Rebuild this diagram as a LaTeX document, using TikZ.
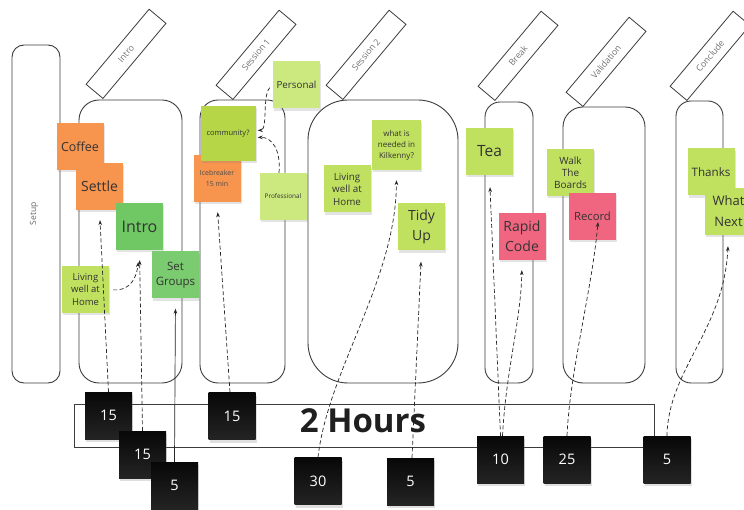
\documentclass[tikz,border=0pt]{standalone}
\usepackage{fontspec}
\setmainfont{Open Sans}
\usetikzlibrary{arrows.meta,shadows}

\definecolor{stickyorange}{RGB}{247,148,78}
\definecolor{stickylime}{RGB}{192,224,96}
\definecolor{stickypale}{RGB}{204,233,128}
\definecolor{stickyleaf}{RGB}{112,200,100}
\definecolor{stickypink}{RGB}{240,102,128}
\definecolor{stickyolive}{RGB}{182,214,72}
\definecolor{inkline}{RGB}{60,60,60}

\begin{document}
\begin{tikzpicture}[x=1pt,y=-1pt,
  colbox/.style={draw=inkline, line width=0.9pt, rounded corners=#1, inner sep=0pt},
  colbox/.default=18pt,
  tab/.style={draw=inkline, line width=0.8pt, rotate=50, anchor=south west,
    minimum width=98, minimum height=22, inner sep=0pt,
    font=\fontsize{8.8}{10}\selectfont, text=black!55},
  sticky/.style={fill=#1, minimum width=47, minimum height=47, inner sep=1pt,
    align=center, text=black!80,
    drop shadow={shadow xshift=1pt, shadow yshift=-2.5pt, opacity=0.22}},
  timer/.style={minimum width=47, minimum height=47, inner sep=0pt,
    top color=black!97, bottom color=black!86, text=white,
    font=\fontsize{14.5}{16}\selectfont,
    drop shadow={shadow xshift=1pt, shadow yshift=-3pt, opacity=0.25}},
  conn/.style={draw=black!85, line width=0.7pt, dash pattern=on 4pt off 2.5pt,
    -{Stealth[length=5pt,width=3.6pt]}},
]
\clip (0,0) rectangle (744,510);
\fill[white] (0,0) rectangle (744,510);

% agenda columns
\node[colbox=12pt, minimum width=48, minimum height=338] (setupcol) at (36,214) {};
\node[rotate=90, font=\fontsize{8.5}{9}\selectfont, text=black!60] (setuplabel) at (34,214) {Setup};
\node[colbox=20pt, minimum width=103, minimum height=283] (introcol) at (130.5,241.5) {};
\node[colbox=18pt, minimum width=85, minimum height=283] (sessAcol) at (242.5,241.5) {};
\node[colbox=40pt, minimum width=150, minimum height=283] (sessBcol) at (383,241.5) {};
\node[colbox=15pt, minimum width=48, minimum height=281] (breakcol) at (509,242.5) {};
\node[colbox=20pt, minimum width=82, minimum height=276] (validcol) at (604,245) {};
\node[colbox=15pt, minimum width=47, minimum height=282] (concludecol) at (699.5,242) {};

% slanted headers
\node[tab] (tabintro) at (103,99) {Intro};
\node[tab] (tabsessA) at (233,100) {Session 1};
\node[tab] (tabsessB) at (343,100) {Session 2};
\node[tab] (tabbreak) at (495,101) {Break};
\node[tab] (tabvalid) at (583,107) {Validation};
\node[tab] (tabconclude) at (687,101) {Conclude};

% time bar
\node[draw=inkline, line width=0.8pt, minimum width=580, minimum height=43, inner sep=0pt] (hoursbar) at (364,425.5) {};
\node[font=\fontsize{33}{36}\selectfont\bfseries, text=black!88] (hourslabel) at (363,421) {2 Hours};

% sticky notes
\node[sticky=stickyorange, font=\fontsize{12.5}{15}\selectfont] (coffee) at (80,146.5) {Coffee};
\node[sticky=stickyorange, font=\fontsize{14}{16}\selectfont] (settle) at (99.5,186.5) {Settle};
\node[sticky=stickyleaf, font=\fontsize{16}{18}\selectfont] (intronote) at (139.5,226.5) {Intro};
\node[sticky=stickyleaf!92!white, font=\fontsize{11.5}{15}\selectfont] (groups) at (175.5,275) {Set\\Groups};
\node[sticky=stickylime, font=\fontsize{9.5}{12.5}\selectfont] (livingA) at (85.5,289.5) {Living\\well at\\Home};
\node[sticky=stickyorange, font=\fontsize{7}{11}\selectfont, text=black!70] (icebreaker) at (217,178.5) {Icebreaker\\15 min};
\node[sticky=stickyolive, minimum width=55, minimum height=55, font=\fontsize{7.5}{9}\selectfont] (community) at (228,133.5) {community?};
\node[sticky=stickypale, font=\fontsize{9.8}{12}\selectfont] (personal) at (296.5,85) {Personal};
\node[sticky=stickypale, font=\fontsize{6.4}{8}\selectfont] (professional) at (283,196.5) {Professional};
\node[sticky=stickylime, font=\fontsize{9.8}{12.5}\selectfont] (livingB) at (347,189) {Living\\well at\\Home};
\node[sticky=stickylime, minimum width=49, minimum height=50, font=\fontsize{8}{11}\selectfont] (kilkenny) at (396.5,145) {what is\\needed in\\Kilkenny?};
\node[sticky=stickylime, font=\fontsize{14}{20}\selectfont] (tidy) at (421.5,227) {Tidy\\Up};
\node[sticky=stickylime, font=\fontsize{15.5}{18}\selectfont] (tea) at (489.5,151.5) {Tea};
\node[sticky=stickypink, font=\fontsize{14}{20}\selectfont] (rapid) at (522,236.5) {Rapid\\Code};
\node[sticky=stickylime, font=\fontsize{10}{12}\selectfont] (walk) at (570.5,172.5) {Walk\\The\\Boards};
\node[sticky=stickypink, font=\fontsize{11.3}{13}\selectfont] (record) at (592.5,216.5) {Record};
\node[sticky=stickylime, font=\fontsize{11.6}{14}\selectfont] (thanks) at (711,172) {Thanks};
\node[sticky=stickylime, font=\fontsize{13}{21}\selectfont] (whatnext) at (728.5,211.5) {What\\Next};

% minute timers
\node[timer] (tA) at (108.5,415.5) {15};
\node[timer] (tB) at (142.5,454.5) {15};
\node[timer] (tC) at (174.5,485.5) {5};
\node[timer] (tD) at (232,416) {15};
\node[timer] (tE) at (318,481) {30};
\node[timer] (tF) at (410.5,481.5) {5};
\node[timer] (tG) at (500.5,459.5) {10};
\node[timer] (tH) at (567,459.5) {25};
\node[timer] (tI) at (667,459.5) {5};

% links from timers to activities
\draw[conn, shorten >=10pt] (tA.north) -- (settle.south);
\draw[conn, shorten >=10pt] (tB.north) -- (intronote.south);
\draw[conn, solid, shorten >=10pt] (tC.north) -- (groups.south);
\draw[conn, shorten >=10pt] ([xshift=-2pt]tD.north) -- (icebreaker.south);
\draw[conn, shorten >=10pt] (tE.north) .. controls (328,370) and (396,280) .. (kilkenny.south);
\draw[conn, shorten >=11pt] ([xshift=1.5pt]tF.north) -- (tidy.south);
\draw[conn, shorten >=12pt] (tG.north) -- (tea.south);
\draw[conn, shorten >=10pt] ([xshift=2pt]tG.north) .. controls (506,370) and (521,320) .. (rapid.south);
\draw[conn] (tH.north) .. controls (570,370) and (592,290) .. ([xshift=5.5pt,yshift=-5.5pt]record.center);
\draw[conn, shorten >=11pt] (tI.north) .. controls (668,370) and (724,330) .. (whatnext.south);

% links between notes
\draw[conn, shorten <=4pt, shorten >=12pt] (livingA.east) .. controls (126,291) and (136,283) .. (intronote.south);
\draw[conn, shorten <=4pt, shorten >=2pt] (personal.west) .. controls (262,95) and (268,130) .. ([yshift=3pt]community.east);
\draw[conn, shorten >=2pt] ([xshift=-4pt]professional.north) .. controls (281,150) and (272,137) .. ([yshift=-4pt]community.east);
\end{tikzpicture}
\end{document}
